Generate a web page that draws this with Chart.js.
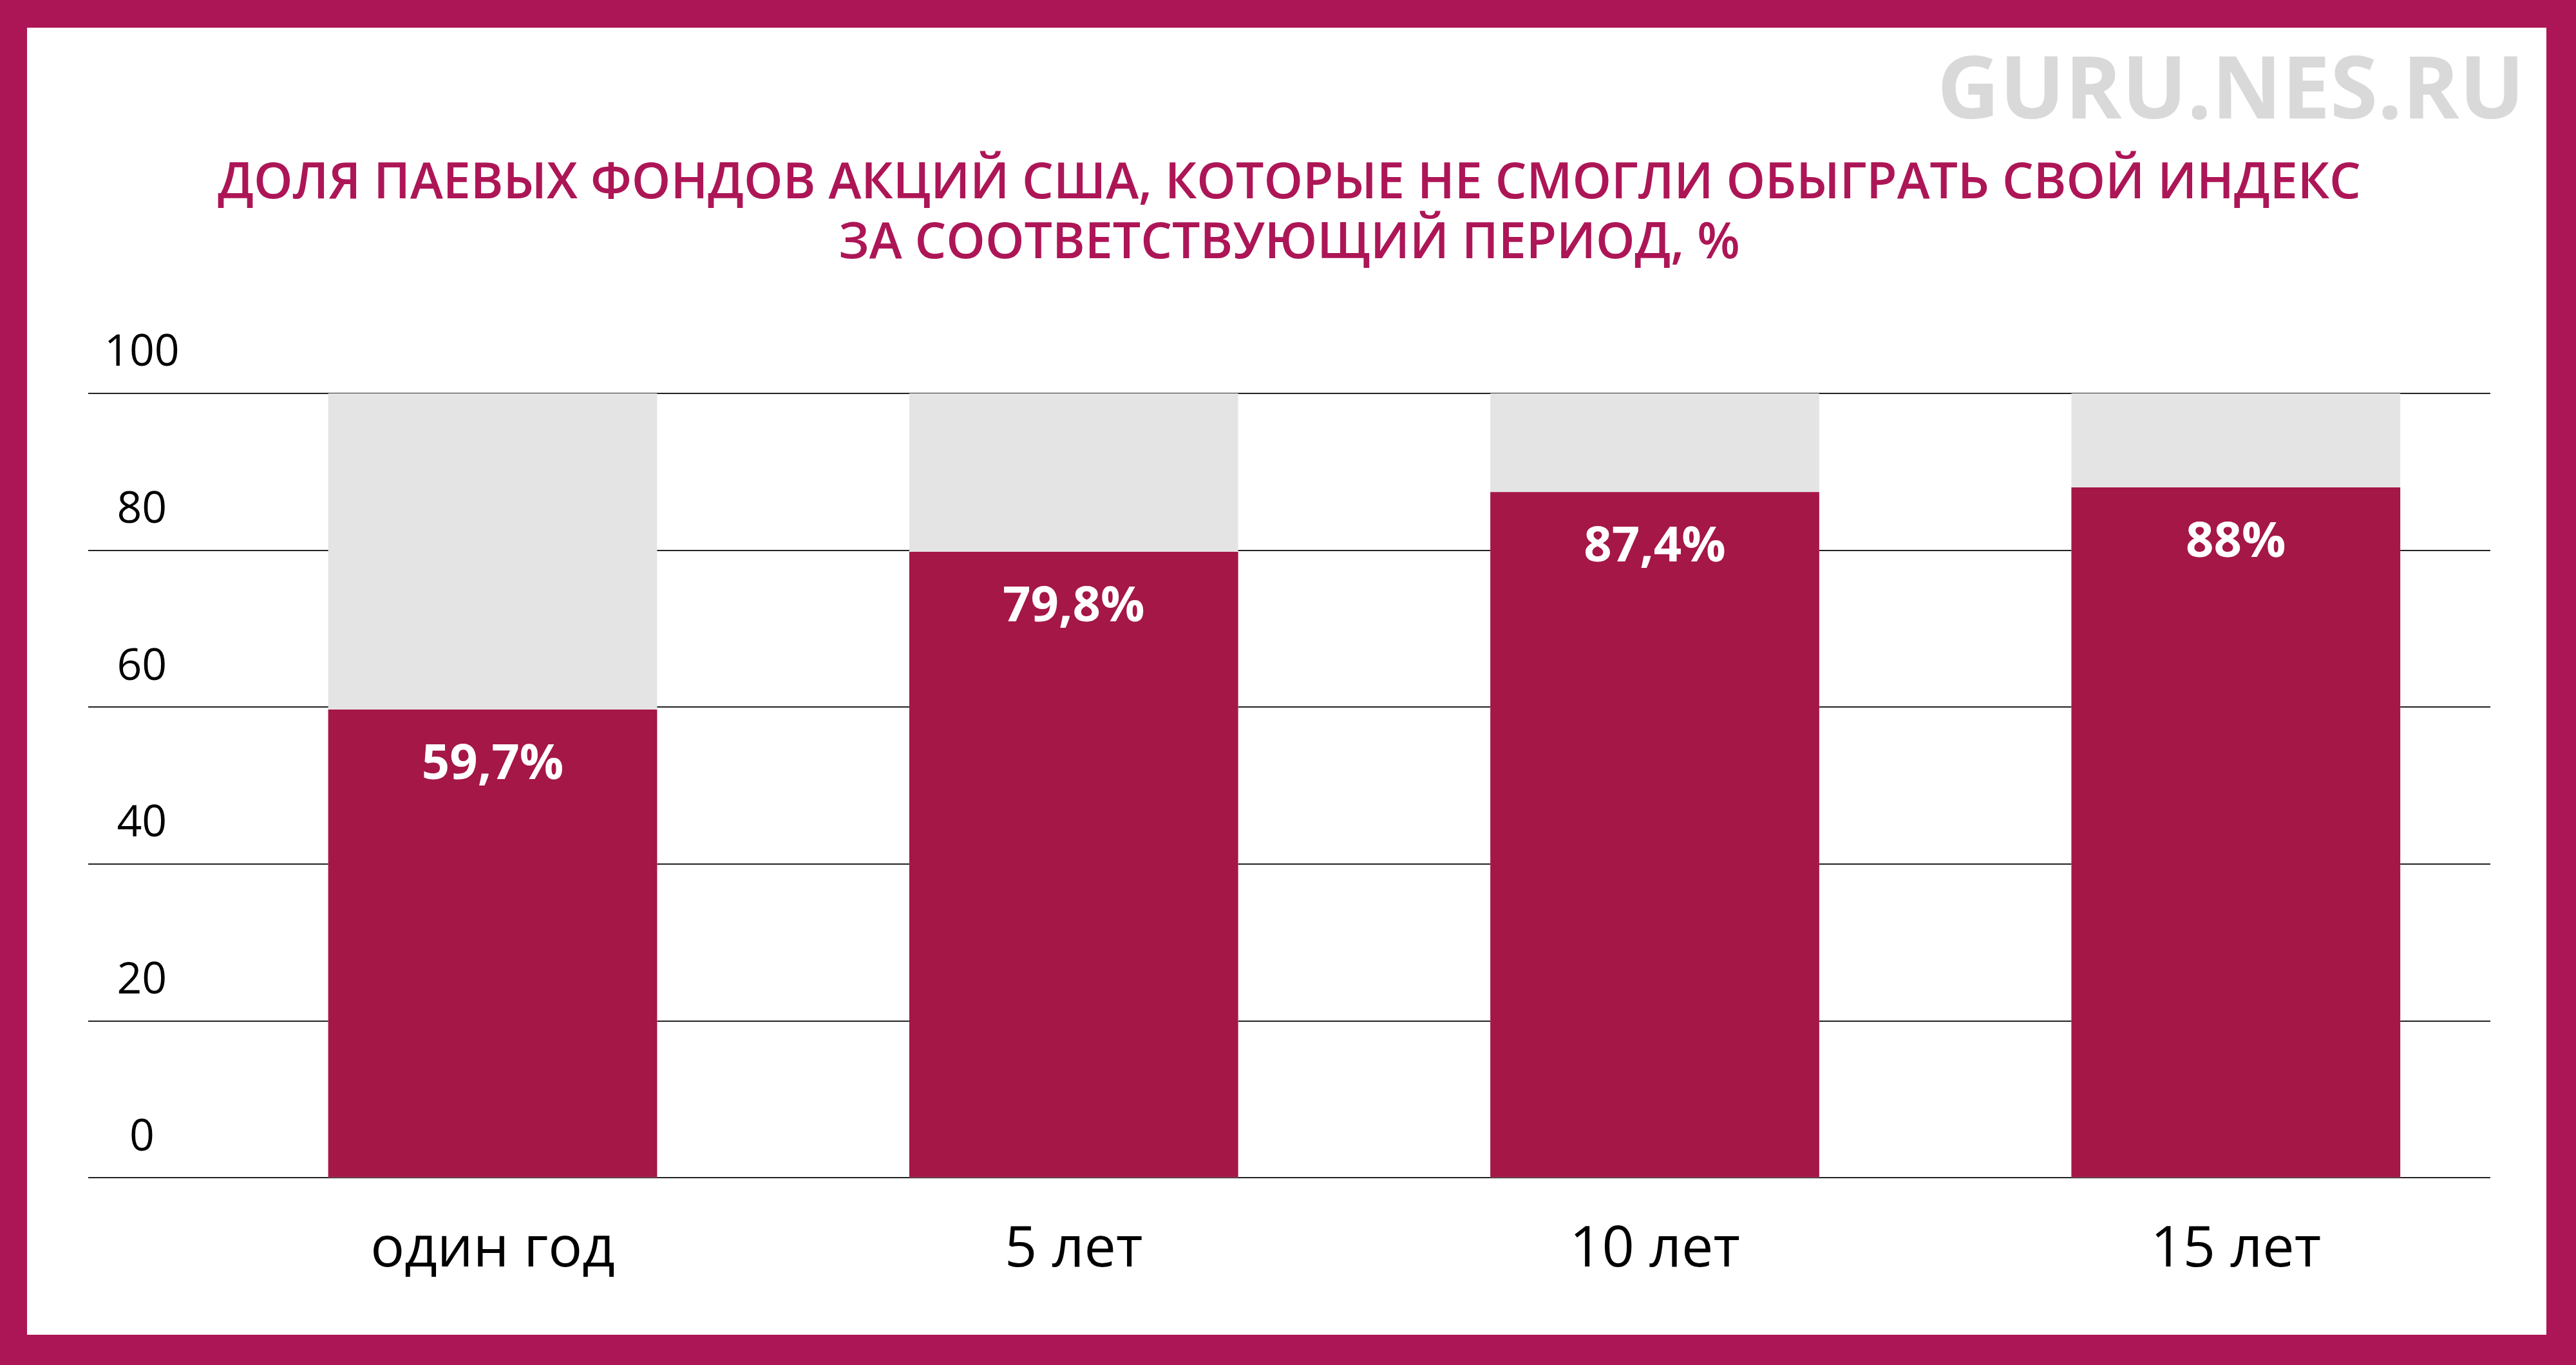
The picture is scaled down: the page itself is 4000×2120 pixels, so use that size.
<!DOCTYPE html>
<html><head><meta charset="utf-8">
<script src="https://cdn.jsdelivr.net/npm/chart.js@4"></script>
<style>
html,body{margin:0;padding:0;background:#fff;}
#wrap{position:relative;width:4000px;height:2120px;background:#AD1656;overflow:hidden;}
#inner{position:absolute;left:42px;top:43px;width:3912px;height:2030px;background:#fff;}
#c{position:absolute;left:0;top:0;}
</style></head><body>
<div id="wrap"><div id="inner"></div><canvas id="c" width="4000" height="2120"></canvas></div>
<script>
const categories = ['один год', '5 лет', '10 лет', '15 лет'];
const failedShare = [59.7, 79.8, 87.4, 88];
const totalShare = [100, 100, 100, 100];
const yTickStep = 20;
const yMin = 0, yMax = 100;
const titleLines = ['ДОЛЯ ПАЕВЫХ ФОНДОВ АКЦИЙ США, КОТОРЫЕ НЕ СМОГЛИ ОБЫГРАТЬ СВОЙ ИНДЕКС', 'ЗА СООТВЕТСТВУЮЩИЙ ПЕРИОД, %'];
const watermark = 'GURU.NES.RU';

const MAGENTA = '#AD1656';
const BAR = '#A51746';
const GRAY = '#E4E4E4';

Chart.defaults.font.family = "'Open Sans', sans-serif";

const valueLabels = {
  id: 'valueLabels',
  afterDatasetsDraw(chart) {
    const meta = chart.getDatasetMeta(0);
    const ctx = chart.ctx;
    ctx.save();
    ctx.font = "bold 76px 'Open Sans'";
    ctx.fillStyle = '#fff';
    ctx.textAlign = 'center';
    ctx.textBaseline = 'middle';
    meta.data.forEach((bar, i) => {
      ctx.fillText(String(failedShare[i]).replace('.', ',') + '%', bar.x, bar.y + 86);
    });
    ctx.restore();
  }
};
const watermarkPlugin = {
  id: 'watermark',
  afterDraw(chart) {
    const ctx = chart.ctx;
    ctx.save();
    ctx.font = "bold 134px 'Open Sans'";
    ctx.fillStyle = '#D9D9D9';
    ctx.textAlign = 'right';
    ctx.textBaseline = 'alphabetic';
    ctx.fillText(watermark, 3920, 184);
    ctx.restore();
  }
};

new Chart(document.getElementById('c'), {
  type: 'bar',
  data: {
    datasets: [
      { data: categories.map((c, i) => ({ x: i, y: failedShare[i] })), backgroundColor: BAR },
      { data: categories.map((c, i) => ({ x: i, y: totalShare[i] })), backgroundColor: GRAY }
    ]
  },
  options: {
    responsive: false,
    animation: false,
    devicePixelRatio: 1,
    datasets: { bar: { grouped: false, categoryPercentage: 1, barPercentage: 0.566 } },
    layout: { padding: { left: 137, right: 133, top: 0, bottom: 73 } },
    plugins: {
      legend: { display: false },
      tooltip: { enabled: false },
      title: {
        display: true,
        text: titleLines,
        color: MAGENTA,
        font: { size: 77, weight: '600' },
        lineHeight: 1.21,
        padding: { top: 240, bottom: 186 }
      }
    },
    scales: {
      x: {
        type: 'linear',
        min: -0.696,
        max: 3.438,
        offset: false,
        grid: { display: false },
        border: { display: false },
        afterBuildTicks: (scale) => { scale.ticks = categories.map((c, i) => ({ value: i })); },
        ticks: {
          autoSkip: false,
          maxRotation: 0,
          color: '#000',
          font: { size: 88 },
          padding: 52,
          callback: (v) => categories[v]
        }
      },
      y: {
        min: yMin,
        max: yMax,
        afterFit: (scale) => { scale.width = 0; },
        grid: { color: '#222', lineWidth: 2, drawTicks: false },
        border: { display: false },
        ticks: {
          stepSize: yTickStep,
          mirror: true,
          crossAlign: 'center',
          padding: 25,
          labelOffset: -62,
          color: '#000',
          font: { size: 68 }
        }
      }
    }
  },
  plugins: [valueLabels, watermarkPlugin]
});
</script>
</body></html>
